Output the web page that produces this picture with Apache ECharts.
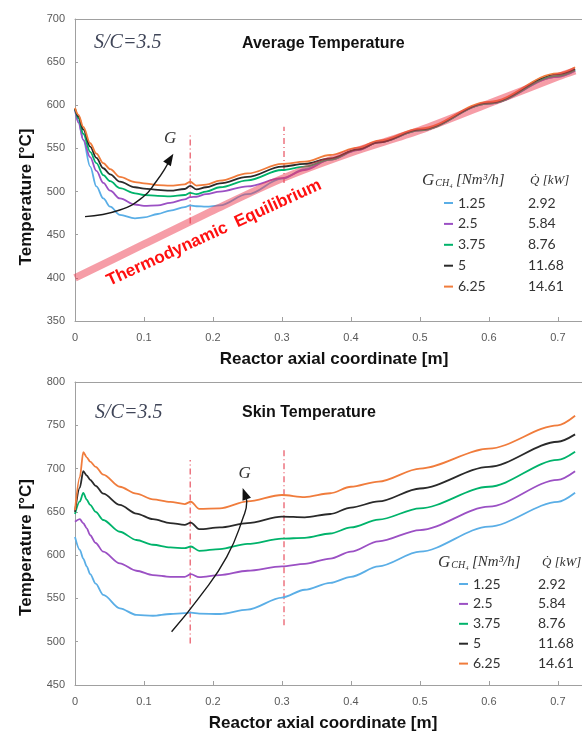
<!DOCTYPE html>
<html lang="en">
<head>
<meta charset="UTF-8">
<title>Average / Skin Temperature</title>
<script src="https://cdn.jsdelivr.net/npm/echarts@6/dist/echarts.min.js"></script>
<style>
    html, body { margin: 0; padding: 0; background: #fff; }
    #main { width: 582px; height: 736px; }
</style>
</head>
<body>
<div id="main"></div>
<script>
// legend: methane flow [Nm3/h] and heat duty [kW]
var flowNames = ['1.25', '2.5', '3.75', '5', '6.25'];
var dutyKW = ['2.92', '5.84', '8.76', '11.68', '14.61'];
var lineColors = ['#5aaee6', '#9b50c4', '#00b36b', '#2a2a2a', '#f07c3c'];

// average temperature (top plot)
var xAvg = [0, 0.005, 0.012, 0.022, 0.031, 0.041, 0.051, 0.065, 0.087, 0.1, 0.12, 0.138, 0.159, 0.167, 0.176, 0.19, 0.21, 0.25, 0.3, 0.333, 0.37, 0.41, 0.44, 0.5, 0.6, 0.7, 0.725];
var avg125 = [596, 582, 560, 529, 506, 492, 482.5, 473, 469, 470, 474, 478, 482, 484, 483, 482.5, 484, 497, 515, 526, 537, 548, 557, 571, 602, 633, 640];
var avg25  = [595, 580, 560, 540, 524, 510, 501, 492, 485, 483.5, 484, 487, 491, 493.5, 494, 497, 500, 506, 515.5, 525, 537, 548, 557, 571, 602, 633, 640];
var avg375 = [596, 585, 567, 546, 533, 519, 512, 504, 498, 496, 495, 494.5, 496, 498.5, 497, 500, 505, 513, 525, 529, 537, 549, 557, 571, 602, 634, 641];
var avg5   = [596, 587, 572, 552, 539, 527, 520, 511.5, 505, 503.5, 502, 501, 503, 506.5, 502.5, 505, 509.5, 517, 529, 532, 538.5, 549, 557, 572, 603, 636, 642];
var avg625 = [597, 589, 575, 556, 544, 533, 526, 517, 511, 509.5, 507.5, 506.8, 508.3, 511.4, 507, 508, 512.6, 521, 532, 534.6, 542.4, 551, 559, 573, 604, 637, 644];

// thermodynamic equilibrium band
var xEq = [0, 0.1, 0.2, 0.3, 0.4, 0.5, 0.6, 0.7, 0.725];
var tEq = [400, 439, 478, 515, 545, 571, 602, 633, 640];

// skin temperature (bottom plot)
var xSkin = [0, 0.007, 0.012, 0.017, 0.022, 0.03, 0.041, 0.065, 0.089, 0.113, 0.138, 0.159, 0.168, 0.18, 0.21, 0.25, 0.3, 0.333, 0.37, 0.4, 0.44, 0.5, 0.6, 0.7, 0.725];
var skin125 = [621, 606, 596, 587, 578, 567, 554, 538.5, 531, 530, 532, 533, 533.5, 532.5, 532, 537, 551, 560, 568, 575, 587, 604, 633, 661.5, 672];
var skin25  = [638.5, 641.5, 637, 631, 623, 614, 604, 590.5, 582, 577, 575, 575, 578, 574.5, 577, 582, 587, 590, 596, 604, 616, 629, 656, 687, 697];
var skin375 = [647.5, 662, 672, 664, 658, 650, 640.6, 627, 617.5, 612, 609, 608, 610, 605, 607, 613, 619, 620, 625, 632, 641, 654, 679, 710, 719.5];
var skin5   = [650, 678, 697, 692, 687, 680, 671, 658, 648, 641.5, 637, 635, 637.5, 630, 632, 637, 644.5, 643.7, 647.5, 655, 662, 677, 702, 731, 739.5];
var skin625 = [652, 690, 719, 713, 708, 702, 693, 679, 671, 664.5, 661.5, 659, 661.7, 653.5, 654, 662, 669.5, 667, 671.5, 679, 685, 700, 723, 750, 761];

// dash-dot section markers
var markX = [0.167, 0.303];
var markAvgLo = [463, 510];
var markAvgHi = [566, 575];
var markSkinLo = [498, 519];
var markSkinHi = [710, 722];

// "G" arrows
var arrowAvgX = [0.0145, 0.065, 0.099, 0.118, 0.13, 0.138];
var arrowAvgY = [471, 478.6, 494, 512, 526, 538];
var arrowSkinX = [0.14, 0.181, 0.22, 0.244, 0.249, 0.246];
var arrowSkinY = [511.6, 552, 598, 644, 662, 671];

function zip(xs, ys) {
    return xs.map(function (x, i) { return [x, ys[i]]; });
}

var avgData = [avg125, avg25, avg375, avg5, avg625];
var skinData = [skin125, skin25, skin375, skin5, skin625];

var dom = document.getElementById('main');
var myChart = echarts.init(dom, null, { renderer: 'canvas' });

var axisGray = '#a0a0a0';
var labelGray = '#595959';
var serif = '"Liberation Serif", "DejaVu Serif", serif';
var sans = '"Liberation Sans", Arial, sans-serif';

function xAxisFor(gridIndex, padding) {
    return {
        type: 'value', gridIndex: gridIndex, min: 0, max: 0.735, interval: 0.1,
        name: 'Reactor axial coordinate [m]', nameLocation: 'middle', nameGap: 30,
        nameTextStyle: { fontFamily: sans, fontSize: 17, fontWeight: 'bold', color: '#111', padding: padding },
        axisLine: { lineStyle: { color: axisGray } },
        axisTick: { inside: true, length: 4, lineStyle: { color: axisGray } },
        axisLabel: { color: labelGray, fontFamily: sans, fontSize: 11, margin: 11, showMaxLabel: false },
        splitLine: { show: false }
    };
}
function topBorder(gridIndex) {
    return {
        type: 'value', gridIndex: gridIndex, position: 'top', min: 0, max: 0.735,
        axisLine: { lineStyle: { color: axisGray } },
        axisTick: { show: false }, axisLabel: { show: false }, splitLine: { show: false }
    };
}
function yAxisFor(gridIndex, min, max, padding) {
    return {
        type: 'value', gridIndex: gridIndex, min: min, max: max, interval: 50,
        name: 'Temperature [°C]', nameLocation: 'middle', nameGap: 40,
        nameTextStyle: { fontFamily: sans, fontSize: 17, fontWeight: 'bold', color: '#111', padding: padding },
        axisLine: { show: true, lineStyle: { color: axisGray } },
        axisTick: { show: true, inside: true, length: 3, lineStyle: { color: axisGray } },
        axisLabel: { color: labelGray, fontFamily: sans, fontSize: 11, margin: 10 },
        splitLine: { show: false }
    };
}

var series = [];
flowNames.forEach(function (name, i) {
    series.push({
        name: name, type: 'line', xAxisIndex: 0, yAxisIndex: 0,
        data: zip(xAvg, avgData[i]), showSymbol: false, smooth: 0.35, smoothMonotone: 'x',
        lineStyle: { color: lineColors[i], width: 1.8 }, itemStyle: { color: lineColors[i] }, z: 3
    });
});
series.push({
    type: 'line', xAxisIndex: 0, yAxisIndex: 0, data: zip(xEq, tEq), showSymbol: false, smooth: 0.3,
    lineStyle: { color: 'rgba(238, 60, 80, 0.5)', width: 7.5 }, z: 4, silent: true
});
flowNames.forEach(function (name, i) {
    series.push({
        name: name, type: 'line', xAxisIndex: 2, yAxisIndex: 1,
        data: zip(xSkin, skinData[i]), showSymbol: false, smooth: 0.3, smoothMonotone: 'x',
        lineStyle: { color: lineColors[i], width: 1.8 }, itemStyle: { color: lineColors[i] }, z: 3
    });
});

// section markers
markX.forEach(function (x, i) {
    var dash = { color: '#e8505f', width: 1.2, type: [6, 3, 1, 3] };
    series.push({ type: 'line', xAxisIndex: 0, yAxisIndex: 0, data: [[x, markAvgLo[i]], [x, markAvgHi[i]]],
        showSymbol: false, lineStyle: dash, silent: true, z: 2 });
    series.push({ type: 'line', xAxisIndex: 2, yAxisIndex: 1, data: [[x, markSkinLo[i]], [x, markSkinHi[i]]],
        showSymbol: false, lineStyle: dash, silent: true, z: 2 });
});

// G arrows: curve plus a triangular head at the last point
function arrow(xIdx, yIdx, xs, ys, rotate) {
    var pts = zip(xs, ys);
    var last = pts.length - 1;
    pts[last] = {
        value: pts[last], symbol: 'triangle', symbolSize: [9, 12], symbolRotate: rotate,
        label: { show: true, formatter: 'G', position: 'top', distance: 4,
            fontFamily: serif, fontStyle: 'italic', fontSize: 17, color: '#333' }
    };
    return {
        type: 'line', xAxisIndex: xIdx, yAxisIndex: yIdx, data: pts, smooth: 0.5,
        symbol: 'none', showSymbol: true, showAllSymbol: true, silent: true, z: 5,
        lineStyle: { color: '#1a1a1a', width: 1.4 }, itemStyle: { color: '#111' }
    };
}
series.push(arrow(0, 0, arrowAvgX, arrowAvgY, -32));
series.push(arrow(2, 1, arrowSkinX, arrowSkinY, 20));

function legendFor(left, top, colWidth, gap) {
    return {
        data: flowNames, orient: 'vertical', left: left, top: top,
        icon: 'rect', itemWidth: 9, itemHeight: 2, itemGap: gap,
        formatter: function (name) {
            return '{a|' + name + '}{b|' + dutyKW[flowNames.indexOf(name)] + '}';
        },
        textStyle: {
            color: '#333', fontFamily: 'Lato', fontSize: 14,
            rich: {
                a: { width: colWidth, fontFamily: 'Lato', fontSize: 14, color: '#333', lineHeight: 15 },
                b: { fontFamily: 'Lato', fontSize: 14, color: '#333', lineHeight: 15 }
            }
        }
    };
}

function headerText(left, top, qLeft) {
    return [{
        type: 'text', left: left, top: top,
        style: {
            text: '{g|G}{s|CH₄} {u|[Nm³/h]}',
            rich: {
                g: { font: 'italic 17px ' + serif, fill: '#333' },
                s: { font: 'italic 10px ' + serif, fill: '#333', padding: [6, 0, 0, 1] },
                u: { font: 'italic 15px ' + serif, fill: '#333' }
            }
        }
    }, {
        type: 'text', left: qLeft, top: top + 2,
        style: { text: 'Q\u0307 [kW]', font: 'italic 13px ' + serif, fill: '#333' }
    }];
}

var graphics = [
    { type: 'text', left: 94, top: 33, style: { text: 'S/C=3.5', font: 'italic 20px ' + serif, fill: '#3f4558' } },
    { type: 'text', left: 242, top: 36, style: { text: 'Average Temperature', font: 'bold 16px ' + sans, fill: '#111' } },
    { type: 'text', left: 95, top: 403, style: { text: 'S/C=3.5', font: 'italic 20px ' + serif, fill: '#3f4558' } },
    { type: 'text', left: 242, top: 405, style: { text: 'Skin Temperature', font: 'bold 16px ' + sans, fill: '#111' } },
    {
        type: 'text', x: 214, y: 233, rotation: 0.43,
        style: { text: 'Thermodynamic  Equilibrium', font: 'bold 17px ' + sans, fill: '#ff1010',
            align: 'center', verticalAlign: 'middle' }
    }
].concat(headerText(422, 172, 530)).concat(headerText(438, 554, 542));

var option = {
    animation: false,
    grid: [
        { left: 75, top: 19, right: 0, height: 302 },
        { left: 75, top: 382, right: 0, height: 303 }
    ],
    xAxis: [xAxisFor(0, [0, 0, 0, 11]), topBorder(0), xAxisFor(1, [0, 11, 0, 0]), topBorder(1)],
    yAxis: [yAxisFor(0, 350, 700, [0, 54, 0, 0]), yAxisFor(1, 450, 800, [0, 28, 0, 0])],
    legend: [legendFor(439, 191, 70, 6.9), legendFor(454, 572, 65, 5.9)],
    graphic: graphics,
    series: series
};

myChart.setOption(option);
window.addEventListener('resize', myChart.resize);
</script>
</body>
</html>
